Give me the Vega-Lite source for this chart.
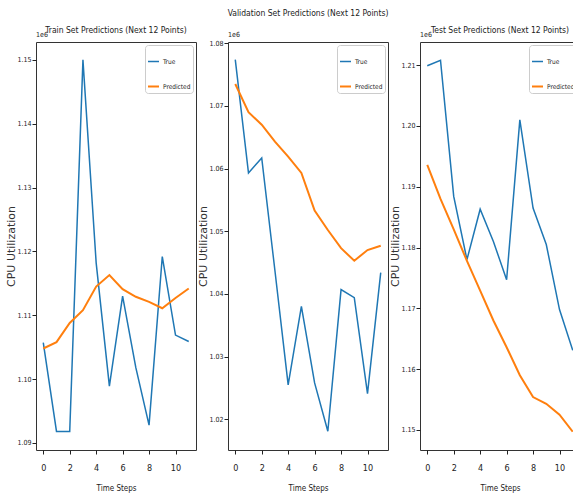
{
  "$schema": "https://vega.github.io/schema/vega-lite/v6.json",
  "background": "white",
  "padding": {"left": 5, "top": 8, "right": 0, "bottom": 5},
  "spacing": 0,
  "datasets": {
    "offsetText": [{"label": "1e6"}],
    "train": [
      {"step": 0, "series": "True", "value": 1105700},
      {"step": 1, "series": "True", "value": 1091800},
      {"step": 2, "series": "True", "value": 1091800},
      {"step": 3, "series": "True", "value": 1150000},
      {"step": 4, "series": "True", "value": 1118200},
      {"step": 5, "series": "True", "value": 1098900},
      {"step": 6, "series": "True", "value": 1113000},
      {"step": 7, "series": "True", "value": 1101800},
      {"step": 8, "series": "True", "value": 1092800},
      {"step": 9, "series": "True", "value": 1119200},
      {"step": 10, "series": "True", "value": 1106900},
      {"step": 11, "series": "True", "value": 1105900},
      {"step": 0, "series": "Predicted", "value": 1104800},
      {"step": 1, "series": "Predicted", "value": 1105800},
      {"step": 2, "series": "Predicted", "value": 1108800},
      {"step": 3, "series": "Predicted", "value": 1110800},
      {"step": 4, "series": "Predicted", "value": 1114500},
      {"step": 5, "series": "Predicted", "value": 1116300},
      {"step": 6, "series": "Predicted", "value": 1114100},
      {"step": 7, "series": "Predicted", "value": 1112900},
      {"step": 8, "series": "Predicted", "value": 1112100},
      {"step": 9, "series": "Predicted", "value": 1111100},
      {"step": 10, "series": "Predicted", "value": 1112700},
      {"step": 11, "series": "Predicted", "value": 1114200}
    ],
    "val": [
      {"step": 0, "series": "True", "value": 1077400},
      {"step": 1, "series": "True", "value": 1059300},
      {"step": 2, "series": "True", "value": 1061700},
      {"step": 3, "series": "True", "value": 1043700},
      {"step": 4, "series": "True", "value": 1025500},
      {"step": 5, "series": "True", "value": 1038000},
      {"step": 6, "series": "True", "value": 1025800},
      {"step": 7, "series": "True", "value": 1018100},
      {"step": 8, "series": "True", "value": 1040700},
      {"step": 9, "series": "True", "value": 1039400},
      {"step": 10, "series": "True", "value": 1024100},
      {"step": 11, "series": "True", "value": 1043400},
      {"step": 0, "series": "Predicted", "value": 1073500},
      {"step": 1, "series": "Predicted", "value": 1069000},
      {"step": 2, "series": "Predicted", "value": 1067000},
      {"step": 3, "series": "Predicted", "value": 1064300},
      {"step": 4, "series": "Predicted", "value": 1061900},
      {"step": 5, "series": "Predicted", "value": 1059300},
      {"step": 6, "series": "Predicted", "value": 1053300},
      {"step": 7, "series": "Predicted", "value": 1050200},
      {"step": 8, "series": "Predicted", "value": 1047300},
      {"step": 9, "series": "Predicted", "value": 1045300},
      {"step": 10, "series": "Predicted", "value": 1047000},
      {"step": 11, "series": "Predicted", "value": 1047700}
    ],
    "test": [
      {"step": 0, "series": "True", "value": 1209900},
      {"step": 1, "series": "True", "value": 1210800},
      {"step": 2, "series": "True", "value": 1188400},
      {"step": 3, "series": "True", "value": 1178000},
      {"step": 4, "series": "True", "value": 1186300},
      {"step": 5, "series": "True", "value": 1181000},
      {"step": 6, "series": "True", "value": 1174700},
      {"step": 7, "series": "True", "value": 1201000},
      {"step": 8, "series": "True", "value": 1186500},
      {"step": 9, "series": "True", "value": 1180500},
      {"step": 10, "series": "True", "value": 1169800},
      {"step": 11, "series": "True", "value": 1163100},
      {"step": 0, "series": "Predicted", "value": 1193600},
      {"step": 1, "series": "Predicted", "value": 1188000},
      {"step": 2, "series": "Predicted", "value": 1183000},
      {"step": 3, "series": "Predicted", "value": 1177800},
      {"step": 4, "series": "Predicted", "value": 1172900},
      {"step": 5, "series": "Predicted", "value": 1168000},
      {"step": 6, "series": "Predicted", "value": 1163600},
      {"step": 7, "series": "Predicted", "value": 1159000},
      {"step": 8, "series": "Predicted", "value": 1155400},
      {"step": 9, "series": "Predicted", "value": 1154300},
      {"step": 10, "series": "Predicted", "value": 1152500},
      {"step": 11, "series": "Predicted", "value": 1149700}
    ]
  },
  "resolve": {"scale": {"color": "independent", "strokeWidth": "independent", "y": "independent"}, "legend": {"color": "independent"}},
  "hconcat": [
    {
      "width": 160, "height": 408,
      "title": {"text": "Train Set Predictions (Next 12 Points)", "offset": -3},
      "layer": [
        {
          "data": {"name": "train"},
          "mark": {"type": "line", "clip": true},
          "encoding": {
            "x": {"field": "step", "type": "quantitative", "scale": {"domain": [-0.55, 11.55], "nice": false, "zero": false}, "axis": {"values": [0, 2, 4, 6, 8, 10], "tickCount": 12, "labelOverlap": false, "title": "Time Steps"}},
            "y": {"field": "value", "type": "quantitative", "scale": {"domain": [1088900, 1152800], "nice": false, "zero": false}, "axis": {"values": [1090000, 1100000, 1110000, 1120000, 1130000, 1140000, 1150000], "tickCount": 12, "labelOverlap": false, "title": "CPU Utilization", "labelExpr": "format(datum.value / 1e6, '.2f')"}},
            "color": {"field": "series", "type": "nominal", "sort": ["True", "Predicted"], "scale": {"domain": ["True", "Predicted"], "range": ["#1f77b4", "#ff7f0e"]}, "legend": {"title": " "}},
            "strokeWidth": {"field": "series", "type": "nominal", "scale": {"domain": ["True", "Predicted"], "range": [1.5, 2]}, "legend": null}
          }
        },
        {
          "data": {"name": "offsetText"},
          "mark": {"type": "text", "align": "left", "baseline": "bottom", "dy": -4, "font": "'DejaVu Sans Condensed', 'Liberation Sans Narrow', 'Liberation Sans', sans-serif", "fontSize": 7, "color": "#222"},
          "encoding": {"x": {"datum": -0.55}, "y": {"datum": 1152800}, "text": {"field": "label"}}
        }
      ]
    },
    {
      "width": 160, "height": 408,
      "title": {"text": "Validation Set Predictions (Next 12 Points)", "offset": 14},
      "layer": [
        {
          "data": {"name": "val"},
          "mark": {"type": "line", "clip": true},
          "encoding": {
            "x": {"field": "step", "type": "quantitative", "scale": {"domain": [-0.55, 11.55], "nice": false, "zero": false}, "axis": {"values": [0, 2, 4, 6, 8, 10], "tickCount": 12, "labelOverlap": false, "title": "Time Steps"}},
            "y": {"field": "value", "type": "quantitative", "scale": {"domain": [1015100, 1080200], "nice": false, "zero": false}, "axis": {"values": [1020000, 1030000, 1040000, 1050000, 1060000, 1070000, 1080000], "tickCount": 12, "labelOverlap": false, "title": "CPU Utilization", "labelExpr": "format(datum.value / 1e6, '.2f')"}},
            "color": {"field": "series", "type": "nominal", "sort": ["True", "Predicted"], "scale": {"domain": ["True", "Predicted"], "range": ["#1f77b4", "#ff7f0e"]}, "legend": {"title": " "}},
            "strokeWidth": {"field": "series", "type": "nominal", "scale": {"domain": ["True", "Predicted"], "range": [1.5, 2]}, "legend": null}
          }
        },
        {
          "data": {"name": "offsetText"},
          "mark": {"type": "text", "align": "left", "baseline": "bottom", "dy": -4, "font": "'DejaVu Sans Condensed', 'Liberation Sans Narrow', 'Liberation Sans', sans-serif", "fontSize": 7, "color": "#222"},
          "encoding": {"x": {"datum": -0.55}, "y": {"datum": 1080200}, "text": {"field": "label"}}
        }
      ]
    },
    {
      "width": 160, "height": 408,
      "title": {"text": "Test Set Predictions (Next 12 Points)", "offset": -3},
      "layer": [
        {
          "data": {"name": "test"},
          "mark": {"type": "line", "clip": true},
          "encoding": {
            "x": {"field": "step", "type": "quantitative", "scale": {"domain": [-0.55, 11.55], "nice": false, "zero": false}, "axis": {"values": [0, 2, 4, 6, 8, 10], "tickCount": 12, "labelOverlap": false, "title": "Time Steps"}},
            "y": {"field": "value", "type": "quantitative", "scale": {"domain": [1146700, 1213800], "nice": false, "zero": false}, "axis": {"values": [1150000, 1160000, 1170000, 1180000, 1190000, 1200000, 1210000], "tickCount": 12, "labelOverlap": false, "title": "CPU Utilization", "labelExpr": "format(datum.value / 1e6, '.2f')"}},
            "color": {"field": "series", "type": "nominal", "sort": ["True", "Predicted"], "scale": {"domain": ["True", "Predicted"], "range": ["#1f77b4", "#ff7f0e"]}, "legend": {"title": " "}},
            "strokeWidth": {"field": "series", "type": "nominal", "scale": {"domain": ["True", "Predicted"], "range": [1.5, 2]}, "legend": null}
          }
        },
        {
          "data": {"name": "offsetText"},
          "mark": {"type": "text", "align": "left", "baseline": "bottom", "dy": -4, "font": "'DejaVu Sans Condensed', 'Liberation Sans Narrow', 'Liberation Sans', sans-serif", "fontSize": 7, "color": "#222"},
          "encoding": {"x": {"datum": -0.55}, "y": {"datum": 1213800}, "text": {"field": "label"}}
        }
      ]
    }
  ],
  "config": {
    "view": {"stroke": "#333", "strokeWidth": 1},
    "title": {"font": "'DejaVu Sans Condensed', 'Liberation Sans Narrow', 'Liberation Sans', sans-serif", "fontSize": 8.5, "fontWeight": "normal", "color": "#222", "anchor": "middle", "frame": "group"},
    "axis": {
      "grid": false, "domain": false, "labelOverlap": false,
      "tickColor": "#222", "tickSize": 4,
      "labelFont": "'DejaVu Sans Condensed', 'Liberation Sans Narrow', 'Liberation Sans', sans-serif", "labelColor": "#222",
      "titleColor": "#222", "titleFontWeight": "normal"
    },
    "axisX": {"labelFontSize": 9, "labelPadding": 9, "titleFont": "'DejaVu Sans Condensed', 'Liberation Sans Narrow', 'Liberation Sans', sans-serif", "titleFontSize": 8, "titlePadding": 12},
    "axisY": {"labelFontSize": 7, "labelPadding": 1, "titleFont": "DejaVu Sans", "titleFontSize": 11, "titleColor": "#333", "titlePadding": 0},
    "legend": {
      "orient": "top-right", "offset": 3, "padding": 2,
      "fillColor": "rgba(255,255,255,0.85)", "strokeColor": "#ccc", "cornerRadius": 3,
      "symbolType": "stroke", "symbolSize": 121, "symbolStrokeWidth": 2,
      "labelFont": "'DejaVu Sans Condensed', 'Liberation Sans Narrow', 'Liberation Sans', sans-serif", "labelFontSize": 6.5, "labelColor": "#222", "labelOffset": 3,
      "titleFontSize": 8, "titlePadding": 0,
      "rowPadding": 15
    }
  }
}
